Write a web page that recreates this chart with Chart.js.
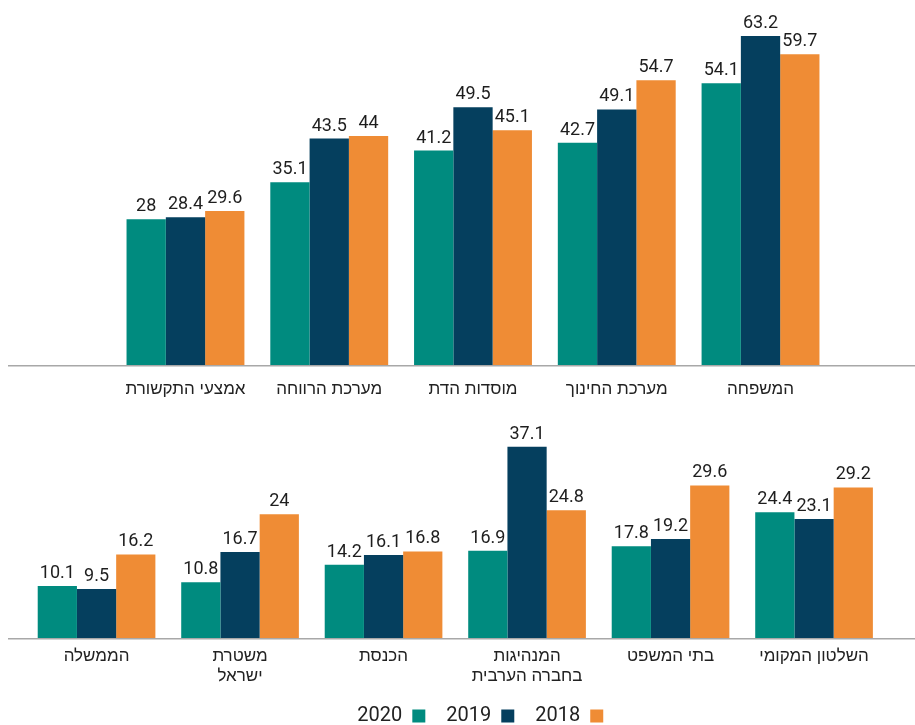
<!DOCTYPE html>
<html lang="he">
<head>
<meta charset="utf-8">
<script src="https://cdn.jsdelivr.net/npm/chart.js@4.4.1/dist/chart.umd.min.js"></script>
<style>
html, body { margin: 0; padding: 0; background: #fff; overflow: hidden; width: 915px; height: 725px; }
#topChart { position: absolute; left: 0; top: 0; }
#bottomChart { position: absolute; left: 0; top: 395px; }
</style>
</head>
<body>
<canvas id="topChart" width="915" height="405"></canvas>
<canvas id="bottomChart" width="965" height="341"></canvas>
<script>
const years = ['2020', '2019', '2018'];
const colors = ['#008b7f', '#053f5e', '#ef8c35'];

const topLabels = ['אמצעי התקשורת', 'מערכת הרווחה', 'מוסדות הדת', 'מערכת החינוך', 'המשפחה'];
const top2020 = [28, 35.1, 41.2, 42.7, 54.1];
const top2019 = [28.4, 43.5, 49.5, 49.1, 63.2];
const top2018 = [29.6, 44, 45.1, 54.7, 59.7];

const bottomLabels = ['הממשלה', ['משטרת', 'ישראל'], 'הכנסת', ['המנהיגות', 'בחברה הערבית'], 'בתי המשפט', 'השלטון המקומי'];
const bottom2020 = [10.1, 10.8, 14.2, 16.9, 17.8, 24.4];
const bottom2019 = [9.5, 16.7, 16.1, 37.1, 19.2, 23.1];
const bottom2018 = [16.2, 24, 16.8, 24.8, 29.6, 29.2];

const numFont = 'Roboto, "Liberation Sans", sans-serif';
const hebFont = '"Liberation Sans Narrow", "Liberation Sans", sans-serif';

// value above every bar
const valueLabels = {
    id: 'valueLabels',
    afterDatasetsDraw(chart) {
        const ctx = chart.ctx;
        ctx.save();
        ctx.font = '18px ' + numFont;
        ctx.fillStyle = '#1e1e1e';
        ctx.textAlign = 'center';
        ctx.textBaseline = 'alphabetic';
        chart.data.datasets.forEach((ds, i) => {
            chart.getDatasetMeta(i).data.forEach((bar, j) => {
                ctx.fillText(String(ds.data[j]), bar.x, bar.y - 8);
            });
        });
        ctx.restore();
    }
};

// grey base line running across the whole width
const baseLine = {
    id: 'baseLine',
    afterDatasetsDraw(chart) {
        const ctx = chart.ctx;
        const y = chart.scales.y.getPixelForValue(0);
        ctx.save();
        ctx.fillStyle = '#a8a8a8';
        ctx.fillRect(8, y, Math.min(915, chart.width) - 8, 1.5);
        ctx.restore();
    }
};

function makeDatasets(series) {
    return series.map((data, i) => ({
        label: years[i],
        data: data,
        backgroundColor: colors[i],
        borderWidth: 0,
        barPercentage: 1,
        categoryPercentage: 0.82
    }));
}

new Chart(document.getElementById('topChart'), {
    type: 'bar',
    data: {
        labels: topLabels,
        datasets: makeDatasets([top2020, top2019, top2018])
    },
    options: {
        responsive: false,
        animation: false,
        layout: { padding: { left: 113.6, right: 82.6, top: 11, bottom: 0 } },
        plugins: { legend: { display: false }, tooltip: { enabled: false } },
        scales: {
            x: {
                grid: { display: false, drawTicks: false },
                border: { display: false },
                ticks: { font: { family: hebFont, size: 17 }, color: '#222', padding: 14, maxRotation: 0 },
                afterFit(s) { s.height = 40; }
            },
            y: { display: false, min: 0, max: 68 }
        }
    },
    plugins: [baseLine, valueLabels]
});

new Chart(document.getElementById('bottomChart'), {
    type: 'bar',
    data: {
        labels: bottomLabels,
        datasets: makeDatasets([bottom2020, bottom2019, bottom2018])
    },
    options: {
        responsive: false,
        animation: false,
        layout: { padding: { left: 24.8, right: 29.2, top: 11, bottom: 0 } },
        plugins: {
            tooltip: { enabled: false },
            legend: {
                position: 'bottom',
                rtl: true,
                reverse: true,
                labels: {
                    boxWidth: 13,
                    boxHeight: 13,
                    padding: 21,
                    color: '#222',
                    font: { family: numFont, size: 20 }
                }
            }
        },
        scales: {
            x: {
                grid: { display: false, drawTicks: false },
                border: { display: false },
                ticks: { font: { family: hebFont, size: 17, lineHeight: 1.15 }, color: '#222', padding: 9, maxRotation: 0 },
                afterFit(s) { s.height = 47; }
            },
            y: {
                position: 'right',
                min: 0,
                max: 45,
                grid: { display: false },
                border: { display: false },
                ticks: { display: false },
                afterFit(s) { s.width = 50; }
            }
        }
    },
    plugins: [baseLine, valueLabels]
});
</script>
</body>
</html>
